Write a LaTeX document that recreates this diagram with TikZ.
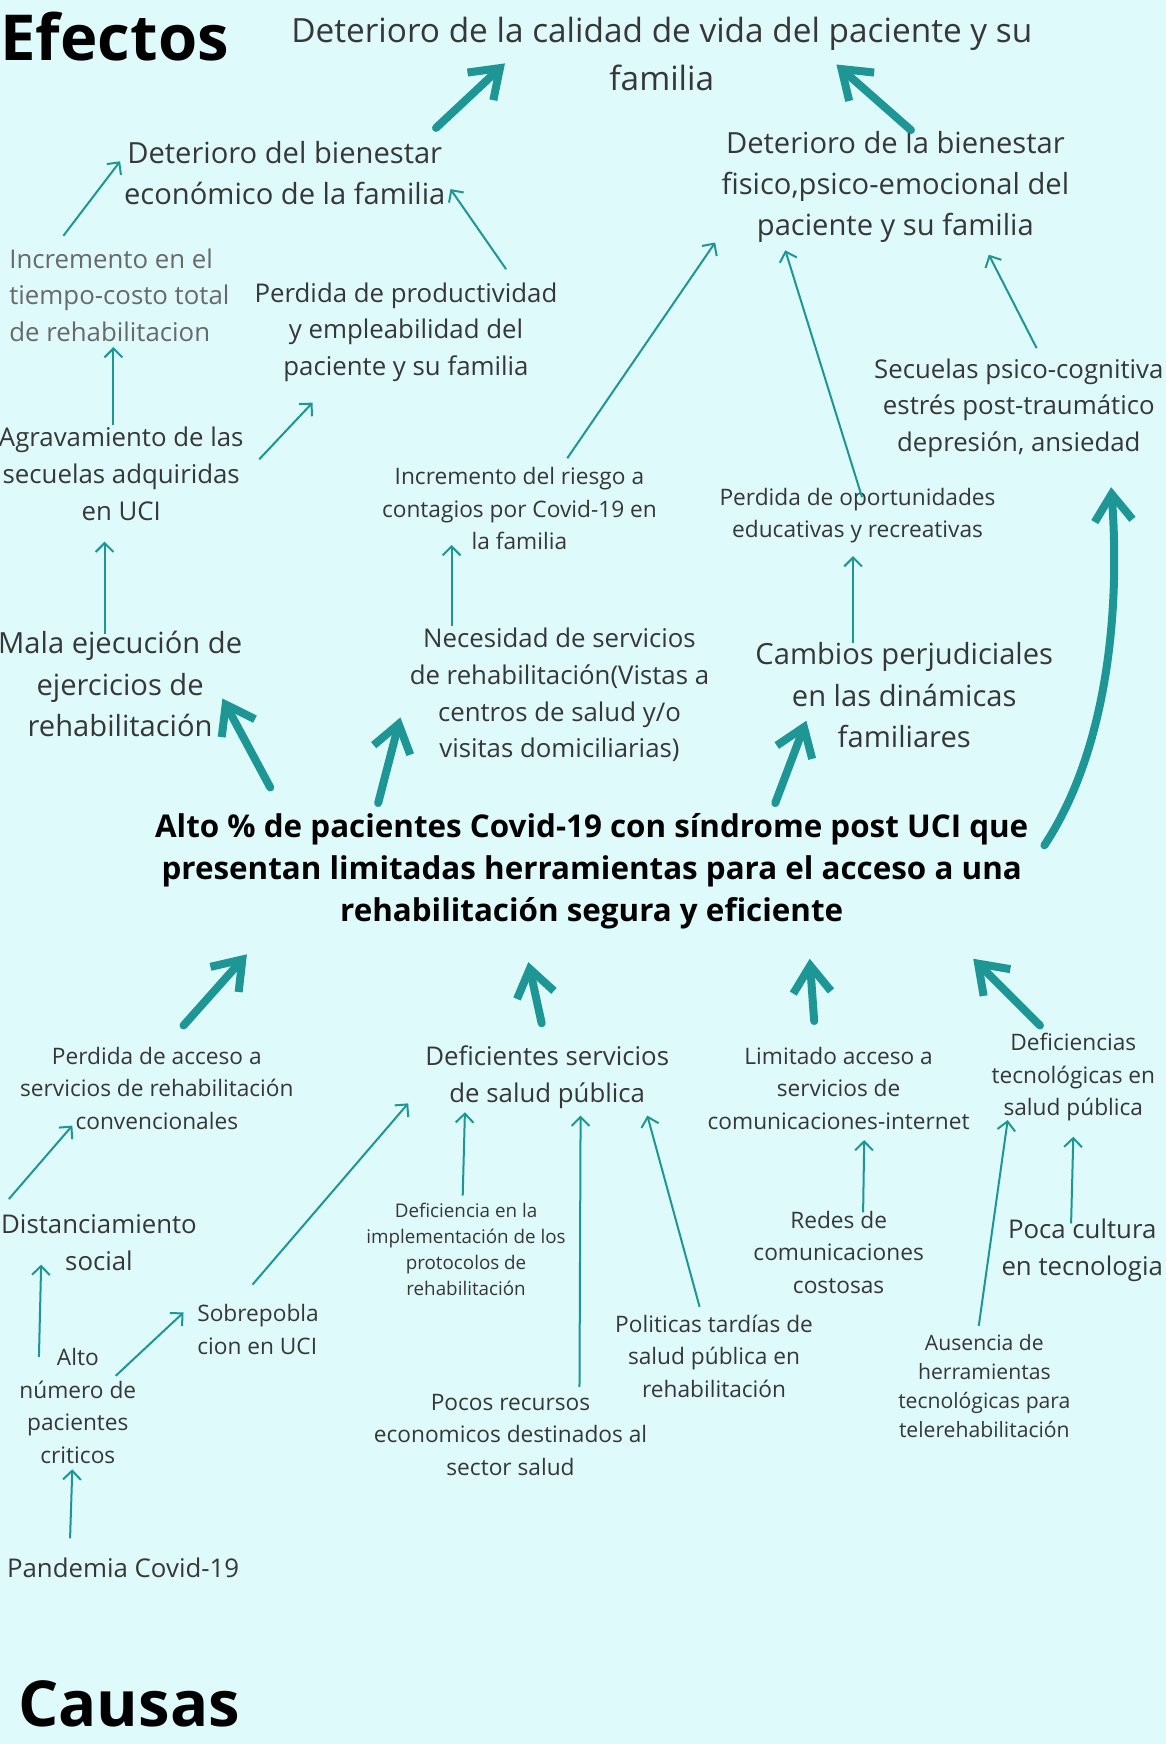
\documentclass[tikz,border=0pt]{standalone}
\usepackage{fontspec}
\setmainfont{Open Sans}
\usetikzlibrary{arrows.meta}
\definecolor{fondo}{RGB}{222,250,251}
\definecolor{flecha}{RGB}{30,150,150}
\definecolor{letra}{RGB}{55,55,55}
\definecolor{gris}{RGB}{105,105,105}
\tikzset{
  fino/.style={draw=flecha, line width=0.9pt, -{Straight Barb[length=4pt,width=8pt]}},
  grueso/.style={draw=flecha, line width=3.6pt, line cap=round, line join=round, -{Straight Barb[length=12pt,width=17pt]}},
  titulo/.style={font=\fontsize{28.5}{30}\selectfont\bfseries, text=black, anchor=west},
  problema/.style={font=\fontsize{14.1}{18.75}\selectfont\bfseries, text=black},
  tam15/.style={font=\fontsize{15}{21.5}\selectfont},
  tam13/.style={font=\fontsize{13.1}{18.5}\selectfont},
  tam115/.style={font=\fontsize{11.6}{16.5}\selectfont},
  tam10/.style={font=\fontsize{10.2}{14.6}\selectfont},
  tam95/.style={font=\fontsize{9.5}{13}\selectfont},
  tam85/.style={font=\fontsize{8.45}{11.7}\selectfont}
}
\begin{document}
\begin{tikzpicture}[x=0.5pt, y=-0.5pt, every node/.style={inner sep=0pt, align=center, text=letra}]
  \fill[fondo] (0,0) rectangle (1048,1568);
  \useasboundingbox (0,0) rectangle (1048,1568);
  % efectos
  \node[titulo] (efectos) at (0,33) {Efectos};
  \node[tam15] (calidad) at (595,48.5) {Deterioro de la calidad de vida del paciente y su\\familia};
  \node[tam13] (ecofam) at (256,155.5) {Deterioro del bienestar\\económico de la familia};
  \node[tam13] (fisfam) at (805,168) {Deterioro de la bienestar\\fisico,psico-emocional del\\paciente y su familia};
  \node[tam115, text=gris, align=left, anchor=west] (tiempo) at (8,265.5) {Incremento en el\\tiempo-costo total\\de rehabilitacion};
  \node[tam115] (produc) at (365,298.5) {Perdida de productividad\\y empleabilidad del\\paciente y su familia};
  \node[tam115] (secuel) at (916,367) {Secuelas psico-cognitiva\\estrés post-traumático\\depresión, ansiedad};
  \node[tam115] (agrav) at (109,426) {Agravamiento de las\\secuelas adquiridas\\en UCI};
  \node[tam10] (riesgo) at (467,457.5) {Incremento del riesgo a\\contagios por Covid-19 en\\la familia};
  \node[tam10] (oportun) at (771,463.5) {Perdida de oportunidades\\educativas y recreativas};
  \node[tam13] (mala) at (108,615) {Mala ejecución de\\ejercicios de\\rehabilitación};
  \node[tam115] (necesid) at (503,625) {Necesidad de servicios\\de rehabilitación(Vistas a\\centros de salud y/o\\visitas domiciliarias)};
  \node[tam13] (cambios) at (813,625) {Cambios perjudiciales\\en las dinámicas\\familiares};
  % problema central
  \node[problema] (alto) at (532,783.5) {Alto \% de pacientes Covid-19 con síndrome post UCI que\\presentan limitadas herramientas para el acceso a una\\rehabilitación segura y eficiente};
  % causas
  \node[tam10] (acceso) at (141,978.5) {Perdida de acceso a\\servicios de rehabilitación\\convencionales};
  \node[tam115] (deficien) at (492,968.5) {Deficientes servicios\\de salud pública};
  \node[tam10] (limitado) at (754,978.5) {Limitado acceso a\\servicios de\\comunicaciones-internet};
  \node[tam10] (tecnol) at (965,968.5) {Deficiencias\\tecnológicas en\\salud pública};
  \node[tam115] (distan) at (89,1117.5) {Distanciamiento\\social};
  \node[tam85] (implem) at (419,1123) {Deficiencia en la\\implementación de los\\protocolos de\\rehabilitación};
  \node[tam10] (redes) at (754,1126) {Redes de\\comunicaciones\\costosas};
  \node[tam115] (poca) at (973,1124) {Poca cultura\\en tecnologia};
  \node[tam10, align=left, anchor=west] (sobre) at (177,1195.5) {Sobrepobla\\cion en UCI};
  \node[tam10] (numero) at (70,1264) {Alto\\número de\\pacientes\\criticos};
  \node[tam10] (politic) at (642,1219.5) {Politicas tardías de\\salud pública en\\rehabilitación};
  \node[tam95] (ausenc) at (885,1246) {Ausencia de\\herramientas\\tecnológicas para\\telerehabilitación};
  \node[tam10] (recursos) at (459,1290) {Pocos recursos\\economicos destinados al\\sector salud};
  \node[tam115, anchor=west] (pandem) at (6,1410) {Pandemia Covid-19};
  \node[titulo] (causas) at (16,1532) {Causas};
  % flechas gruesas
  \draw[grueso] ([shift={(136,-40.5)}]ecofam.center) -- ([shift={(-141,8.5)}]calidad.center);
  \draw[grueso] ([shift={(14,-51)}]fisfam.center) -- ([shift={(157,9.5)}]calidad.center);
  \draw[grueso] ([shift={(-289,-75.5)}]alto.center) -- ([shift={(92,13)}]mala.center);
  \draw[grueso] ([shift={(-192,-61.5)}]alto.center) -- ([shift={(-143,20)}]necesid.center);
  \draw[grueso] ([shift={(165,-61.5)}]alto.center) -- ([shift={(-88,23)}]cambios.center);
  \draw[grueso] ([shift={(407,-23.5)}]alto.center) .. controls ([shift={(460,-103.5)}]alto.center) and ([shift={(92,193)}]secuel.center) .. ([shift={(83,71)}]secuel.center);
  \draw[grueso] ([shift={(24,-56.5)}]acceso.center) -- ([shift={(-310,74.5)}]alto.center);
  \draw[grueso] ([shift={(-5,-48.5)}]deficien.center) -- ([shift={(-57,81.5)}]alto.center);
  \draw[grueso] ([shift={(-22,-60.5)}]limitado.center) -- ([shift={(196,78.5)}]alto.center);
  \draw[grueso] ([shift={(-30,-46.5)}]tecnol.center) -- ([shift={(343,78.5)}]alto.center);
  % flechas finas arriba
  \draw[fino] ([shift={(49,-53.5)}]tiempo.west) -- ([shift={(-148,-10.5)}]ecofam.center);
  \draw[fino] ([shift={(90,-56.5)}]produc.center) -- ([shift={(149,14.5)}]ecofam.center);
  \draw[fino] ([shift={(-7,-44)}]agrav.center) -- ([shift={(94,46.5)}]tiempo.west);
  \draw[fino] ([shift={(124,-13)}]agrav.center) -- ([shift={(-84,63.5)}]produc.center);
  \draw[fino] ([shift={(43,-45.5)}]riesgo.center) -- ([shift={(-162,50)}]fisfam.center);
  \draw[fino] ([shift={(4,-16.5)}]oportun.center) -- ([shift={(-99,57)}]fisfam.center);
  \draw[fino] ([shift={(16,-54)}]secuel.center) -- ([shift={(84,61)}]fisfam.center);
  \draw[fino] ([shift={(-14,-45)}]mala.center) -- ([shift={(-15,61)}]agrav.center);
  \draw[fino] ([shift={(-97,-62)}]necesid.center) -- ([shift={(-61,32.5)}]riesgo.center);
  \draw[fino] ([shift={(-46,-47)}]cambios.center) -- ([shift={(-4,36.5)}]oportun.center);
  % flechas finas abajo
  \draw[fino] ([shift={(-81,-39.5)}]distan.center) -- ([shift={(-76,33.5)}]acceso.center);
  \draw[fino] ([shift={(50,-40.5)}]sobre.west) -- ([shift={(-125,23.5)}]deficien.center);
  \draw[fino] ([shift={(-3,-48)}]implem.center) -- ([shift={(-74,31.5)}]deficien.center);
  \draw[fino] ([shift={(62,-43)}]recursos.center) -- ([shift={(30,34.5)}]deficien.center);
  \draw[fino] ([shift={(-13,-44.5)}]politic.center) -- ([shift={(90,34.5)}]deficien.center);
  \draw[fino] ([shift={(22,-36)}]redes.center) -- ([shift={(23,46.5)}]limitado.center);
  \draw[fino] ([shift={(-5,-54)}]ausenc.center) -- ([shift={(-59,38.5)}]tecnol.center);
  \draw[fino] ([shift={(-10,-24)}]poca.center) -- ([shift={(0,53.5)}]tecnol.center);
  \draw[fino] ([shift={(-35,-44)}]numero.center) -- ([shift={(-52,19.5)}]distan.center);
  \draw[fino] ([shift={(34,-27)}]numero.center) -- ([shift={(-12,-15.5)}]sobre.west);
  \draw[fino] ([shift={(57,-27)}]pandem.west) -- ([shift={(-5,57)}]numero.center);
\end{tikzpicture}
\end{document}
